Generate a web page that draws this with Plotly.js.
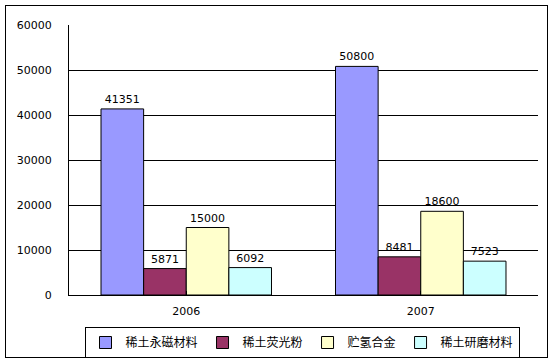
<!DOCTYPE html>
<html>
<head>
<meta charset="utf-8">
<script src="https://cdn.plot.ly/plotly-3.0.1.min.js"></script>
<style>
html,body{margin:0;padding:0;background:#fff;}
#wrap{position:relative;width:553px;height:363px;}
#chart{width:553px;height:363px;}
#frame{position:absolute;left:5px;top:5px;width:541px;height:351px;border:1px solid #000;pointer-events:none;}
</style>
</head>
<body>
<div id="wrap"><div id="chart"></div><div id="frame"></div></div>
<script>
var years = ['2006', '2007'];
var seriesNames = ['稀土永磁材料', '稀土荧光粉', '贮氢合金', '稀土研磨材料'];
var magnet = [41351, 50800];
var phosphor = [5871, 8481];
var hydrogen = [15000, 18600];
var polish = [6092, 7523];
var colors = ['#9999FF', '#993366', '#FFFFCC', '#CCFFFF'];
var yTicks = [0, 10000, 20000, 30000, 40000, 50000, 60000];

var allValues = [magnet, phosphor, hydrogen, polish];
var traces = allValues.map(function(vals, i){
  return {
    type: 'bar',
    name: seriesNames[i],
    x: years,
    y: vals,
    text: vals.map(String),
    textposition: 'outside',
    cliponaxis: false,
    textfont: {family: 'DejaVu Sans', size: 11, color: '#000'},
    marker: {color: colors[i], line: {color: '#000', width: 1}}
  };
});

var layout = {
  width: 553, height: 363,
  margin: {l: 69, r: 15, t: 25, b: 68},
  paper_bgcolor: 'rgba(0,0,0,0)',
  plot_bgcolor: '#fff',
  barmode: 'group',
  bargap: 0.273,
  bargroupgap: 0,
  showlegend: true,
  font: {family: 'DejaVu Sans', size: 11, color: '#000'},
  xaxis: {
    showline: true, linecolor: '#000', linewidth: 1,
    ticks: 'inside', tickson: 'boundaries', ticklen: 4, tickcolor: '#000', tickwidth: 1,
    showgrid: false,
    tickfont: {family: 'DejaVu Sans', size: 11, color: '#000'},
    ticklabelstandoff: 6,
    zeroline: false,
    automargin: false
  },
  yaxis: {
    range: [0, 60000],
    tickvals: yTicks,
    ticktext: yTicks.map(String),
    showline: true, linecolor: '#000', linewidth: 1,
    showgrid: true, gridcolor: '#000', gridwidth: 1,
    zeroline: false,
    ticks: '',
    ticklabelstandoff: 14,
    automargin: false,
    tickfont: {family: 'DejaVu Sans', size: 11, color: '#000'}
  },
  legend: {
    orientation: 'h',
    xref: 'container', yref: 'container',
    x: 302/553, xanchor: 'center',
    y: (363-327)/363, yanchor: 'top',
    bordercolor: '#000', borderwidth: 1,
    bgcolor: '#fff',
    font: {family: 'Noto Sans CJK SC', size: 12, color: '#000'},
    traceorder: 'normal'
  }
};

Plotly.newPlot('chart', traces, layout, {displayModeBar: false, staticPlot: true});
</script>
</body>
</html>
